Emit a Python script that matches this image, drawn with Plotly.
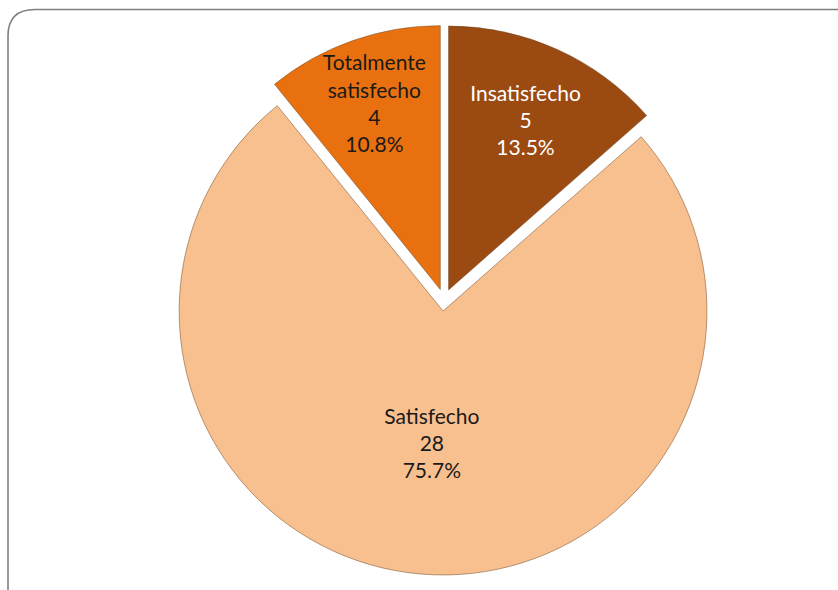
import plotly.graph_objects as go

categories = ["Insatisfecho", "Satisfecho", "Totalmente satisfecho"]
display_labels = ["Insatisfecho", "Satisfecho", "Totalmente<br>satisfecho"]
values = [5, 28, 4]
colors = ["#9B4A12", "#F9C08F", "#E8700F"]
text_colors = ["#FFFFFF", "#1A1A1A", "#1A1A1A"]

W, H = 838, 590

fig = go.Figure(go.Pie(
    labels=categories,
    values=values,
    text=display_labels,
    texttemplate="%{text}<br>%{value}<br>%{percent:.1%}",
    textposition="inside",
    insidetextorientation="horizontal",
    textfont=dict(family="Lato, Carlito, sans-serif", size=21, color=text_colors),
    marker=dict(colors=colors, line=dict(color="rgba(110,70,30,0.5)", width=1)),
    pull=[0.042, 0.042, 0.042],
    sort=False,
    direction="clockwise",
    rotation=0,
    hoverinfo="label+value+percent",
    domain=dict(x=[169 / W, 719 / W], y=[1 - 575 / H, 1 - 25 / H]),
    showlegend=False,
))

def px(x, y):
    return f"{x / W:.5f},{1 - y / H:.5f}"

frame_path = (f"M {px(8, 600)} L {px(8, 36)} Q {px(8, 9.5)} {px(35, 9.5)} L {px(850, 9.5)}")
fig.add_shape(type="path", xref="paper", yref="paper", path=frame_path,
              line=dict(color="#7F7F7F", width=1.6))

fig.update_layout(
    width=W, height=H,
    margin=dict(l=0, r=0, t=0, b=0),
    paper_bgcolor="white",
    plot_bgcolor="white",
    uniformtext=dict(minsize=21, mode="show"),
)

fig.write_html("out.html",
               config={"displayModeBar": False},
               post_script="document.body.style.margin='0';document.body.style.overflow='hidden';")
